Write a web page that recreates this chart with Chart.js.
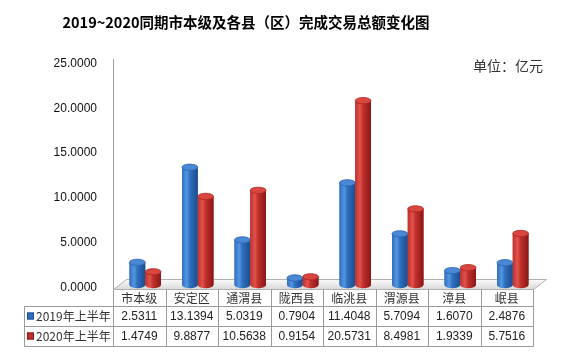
<!DOCTYPE html>
<html><head><meta charset="utf-8">
<script src="https://cdn.jsdelivr.net/npm/chart.js@4/dist/chart.umd.min.js"></script>
<style>html,body{margin:0;padding:0;background:#fff;}#wrap{width:571px;height:362px;position:relative;}</style>
</head><body><div id="wrap"><canvas id="c" width="571" height="362"></canvas></div>
<script>
const categories = ['市本级','安定区','通渭县','陇西县','临洮县','渭源县','漳县','岷县'];
const seriesNames = ['2019年上半年','2020年上半年'];
const values2019 = [2.5311,13.1394,5.0319,0.7904,11.4048,5.7094,1.6070,2.4876];
const values2020 = [1.4749,9.8877,10.5638,0.9154,20.5731,8.4981,1.9339,5.7516];
const yTicks = [0,5,10,15,20,25];
const titleText = '2019~2020同期市本级及各县（区）完成交易总额变化图';
const unitText = '单位：亿元';

const palettes = [
  {edge:'#1c4c8c', mid:'#5596de', base:'#2f6fc0', top:'#4a88d6', topRim:'#2a62ad'},
  {edge:'#8a1716', mid:'#e2534d', base:'#c0302c', top:'#d9463f', topRim:'#a82420'}
];
const DEPTH = 6; // table offset relative to bars (3D perspective)
const CJK = '"Noto Sans CJK SC", "Noto Sans", sans-serif';

const decor = {
  id:'decor',
  beforeDatasetsDraw(chart){
    const ctx = chart.ctx, a = chart.chartArea;
    const L = a.left - DEPTH, R = a.right - DEPTH;
    ctx.save();
    ctx.strokeStyle = '#a0a0a0'; ctx.lineWidth = 1;
    ctx.beginPath(); ctx.moveTo(L+0.5, a.top-2); ctx.lineTo(L+0.5, a.bottom+4); ctx.stroke();
    const fb = a.bottom + 4.5, ft = a.bottom - 5.5;
    const g = ctx.createLinearGradient(0, ft, 0, fb);
    g.addColorStop(0,'#fbfbfb'); g.addColorStop(1,'#d8d8d8');
    ctx.fillStyle = g;
    ctx.beginPath(); ctx.moveTo(L+0.5, fb); ctx.lineTo(R+0.5, fb); ctx.lineTo(R+13.5, ft); ctx.lineTo(L+13.5, ft); ctx.closePath();
    ctx.fill(); ctx.strokeStyle = '#b0b0b0'; ctx.stroke();
    ctx.restore();
  },
  afterDatasetsDraw(chart){
    const ctx = chart.ctx;
    ctx.save();
    chart.data.datasets.forEach((ds, di) => {
      const p = palettes[di];
      chart.getDatasetMeta(di).data.forEach(el => {
        const w = el.width, x0 = el.x - w/2, x1 = el.x + w/2, top = el.y, base = el.base;
        const ry = Math.max(2.5, w*0.2);
        const g = ctx.createLinearGradient(x0, 0, x1, 0);
        g.addColorStop(0, p.base); g.addColorStop(0.3, p.mid); g.addColorStop(0.5, p.base); g.addColorStop(1, p.edge);
        ctx.fillStyle = g;
        ctx.beginPath();
        ctx.moveTo(x0, top); ctx.lineTo(x0, base);
        ctx.ellipse(el.x, base, w/2, ry, 0, Math.PI, 0, true);
        ctx.lineTo(x1, top); ctx.closePath(); ctx.fill();
        ctx.beginPath(); ctx.ellipse(el.x, top, w/2, ry, 0, 0, Math.PI*2);
        ctx.fillStyle = p.top; ctx.fill();
        ctx.strokeStyle = p.topRim; ctx.lineWidth = 0.8; ctx.stroke();
      });
    });
    ctx.restore();
  },
  afterDraw(chart){
    const ctx = chart.ctx, a = chart.chartArea, xs = chart.scales.x;
    const n = categories.length, cw = (a.right - a.left)/n;
    const L = a.left - DEPTH;
    const yHead = a.bottom + 4.5, r1 = 306.5, r2 = 326.5, r3 = 346.5, legL = 24.5;
    ctx.save();
    ctx.fillStyle = '#000'; ctx.font = 'bold 14.5px ' + CJK; ctx.textAlign='center'; ctx.textBaseline='middle';
    ctx.fillText(titleText, 246, 22);
    ctx.font = '14px ' + CJK; ctx.fillStyle = '#333'; ctx.textAlign='left';
    ctx.fillText(unitText, 473, 66);
    ctx.strokeStyle = '#9a9a9a'; ctx.lineWidth = 1;
    ctx.beginPath();
    for (let i=0;i<=n;i++){ const x = Math.round(L + i*cw)+0.5; ctx.moveTo(x, yHead); ctx.lineTo(x, r3); }
    ctx.moveTo(legL, r1); ctx.lineTo(L + n*cw + 0.5, r1);
    ctx.moveTo(legL, r2); ctx.lineTo(L + n*cw + 0.5, r2);
    ctx.moveTo(legL, r3); ctx.lineTo(L + n*cw + 0.5, r3);
    ctx.moveTo(legL, r1); ctx.lineTo(legL, r3);
    ctx.stroke();
    ctx.textAlign='center'; ctx.fillStyle='#333'; ctx.font = '12px ' + CJK;
    categories.forEach((c,i)=>{ ctx.fillText(c, xs.getPixelForValue(i) - DEPTH, 298); });
    const rows = [values2019, values2020], ys = [(r1+r2)/2, (r2+r3)/2];
    rows.forEach((vals, ri) => {
      const p = palettes[ri];
      ctx.fillStyle = p.base; ctx.fillRect(27, ys[ri]-4, 7, 7);
      ctx.strokeStyle = p.edge; ctx.strokeRect(27.5, ys[ri]-3.5, 6, 6);
      ctx.fillStyle = '#333'; ctx.textAlign='left'; ctx.font = '12px ' + CJK;
      ctx.fillText(seriesNames[ri], 36, ys[ri]);
      ctx.textAlign='center'; ctx.font = '12px "Liberation Sans", sans-serif'; ctx.fillStyle='#222';
      vals.forEach((v,i)=>{ ctx.fillText(v.toFixed(4), xs.getPixelForValue(i) - DEPTH, ys[ri]); });
    });
    ctx.restore();
  }
};

new Chart(document.getElementById('c'), {
  type:'bar',
  data:{ labels: categories, datasets:[
    {label: seriesNames[0], data: values2019, backgroundColor: palettes[0].base},
    {label: seriesNames[1], data: values2020, backgroundColor: palettes[1].base}
  ]},
  options:{
    responsive:false, animation:false,
    layout:{padding:{left:0, right:32, top:61, bottom:77}},
    datasets:{bar:{categoryPercentage:0.6, barPercentage:1.0}},
    plugins:{legend:{display:false}, title:{display:false}, tooltip:{enabled:false}},
    scales:{
      x:{display:false},
      y:{min:0, max:25, afterBuildTicks(s){ s.ticks = yTicks.map(v=>({value:v})); },
        afterFit(s){ s.width = 119; },
        grid:{display:false, drawTicks:false}, border:{display:false},
        ticks:{padding:22, labelOffset:2.5, color:'#111', font:{family:'"Liberation Sans", sans-serif', size:12},
          callback:(v)=>Number(v).toFixed(4)}}
    }
  },
  plugins:[decor]
});
</script></body></html>
